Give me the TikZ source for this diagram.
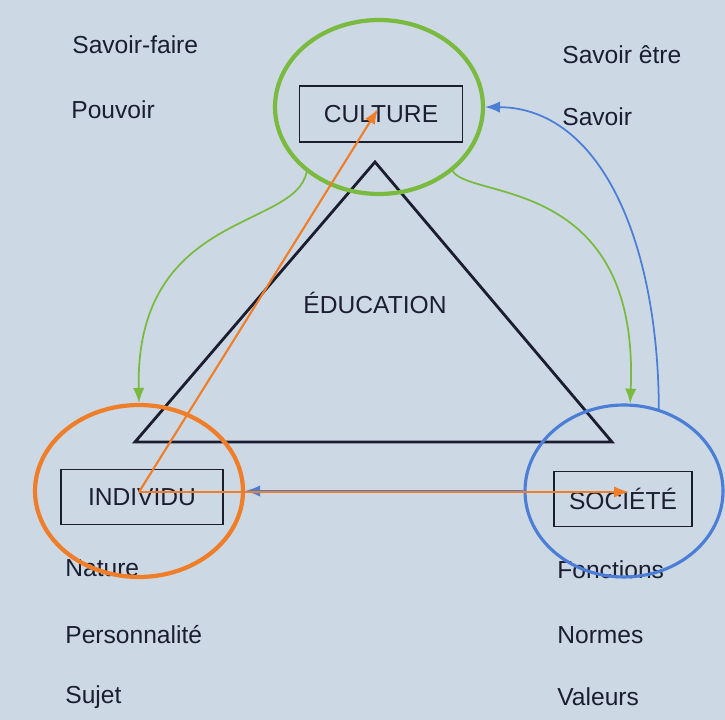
\documentclass[tikz,border=0pt]{standalone}
\usepackage{fontspec}
\setmainfont{Liberation Sans}
\usepackage{tikz}
\usetikzlibrary{shapes.geometric,arrows.meta}

\definecolor{page}{RGB}{204,217,229}
\definecolor{ink}{RGB}{28,30,48}
\definecolor{ringgreen}{RGB}{122,186,62}
\definecolor{ringorange}{RGB}{240,125,40}
\definecolor{ringblue}{RGB}{76,126,214}

\begin{document}
\begin{tikzpicture}[x=0.02cm,y=0.02cm,>={Latex[length=8.5pt,width=6.5pt]},
    every node/.style={text=ink,font=\fontsize{14}{16}\selectfont},
    box/.style={draw=ink,line width=1.1pt,minimum height=1.1cm},
    lbl/.style={anchor=west,inner sep=0pt},
    ring/.style={ellipse,line width=2.4pt,inner sep=0pt}]
\fill[page] (0,0) rectangle (725,720);
\useasboundingbox (0,0) rectangle (725,720);

    \draw[ink,line width=1.6pt,line join=miter] (375,558) -- (612,278) -- (135,278) -- cycle;
    \node (ed) at (375,417){ÉDUCATION};

    \node[box,minimum width=3.26cm,minimum height=1.12cm] (c) at (381,606){CULTURE};
    \node[box,minimum width=3.24cm] (i) at (142,223){INDIVIDU};
    \node[box,minimum width=2.76cm] (s) at (623,221){SOCIÉTÉ};

    \node[lbl] (sf) at (72,675){Savoir-faire};
    \node[lbl] (po) at (71,610){Pouvoir};
    \node[lbl] (se) at (562,665){Savoir être};
    \node[lbl] (sa) at (562,603){Savoir};
    \node[lbl] (na) at (65,152){Nature};
    \node[lbl] (pe) at (65,85){Personnalité};
    \node[lbl] (su) at (65,23){Sujet};
    \node[lbl] (fo) at (557,150){Fonctions};
    \node[lbl] (no) at (557,85){Normes};
    \node[lbl] (va) at (557,23){Valeurs};

\begin{scope}[every node/.style={ring}]
    \node[draw=ringgreen,minimum width=4.16cm,minimum height=3.48cm] (cr) at (379,613){};
    \node[draw=ringorange,minimum width=4.16cm,minimum height=3.44cm] (ir) at (139,229){};
    \node[draw=ringblue,line width=1.8pt,minimum width=3.96cm,minimum height=3.44cm] (sr) at (624,229){};
\end{scope}

    \coordinate (ih) at (139,228);
    \coordinate (ch) at (378,611);
    \coordinate (sh) at (629,228);

    \draw [->,ringgreen,line width=1pt] (cr.222) .. controls (295,490) and (135,509) .. (ir.north);
    \draw [->,ringgreen,line width=1pt] (cr.-41) .. controls (470,520) and (640,545) .. (sr.86);

    \draw [->,ringblue,line width=1pt] (sr.67) .. controls (658,480) and (600,612) .. (cr.east);
    \draw [->,ringblue,line width=1pt] (sr.west) -- (ir.east);

    \draw [->,ringorange,line width=1.2pt] (ih) -- (ch);
    \draw [->,ringorange,line width=1.2pt] (ih) -- (sh);

\end{tikzpicture}
\end{document}
